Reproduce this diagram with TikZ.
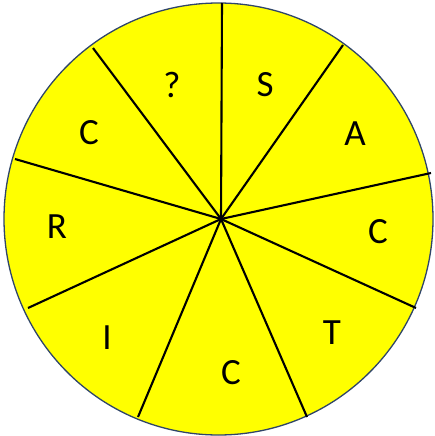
\documentclass[tikz,border=0pt]{standalone}
\usepackage{fontspec}
\setmainfont{Carlito}
\usepackage{tikz}
\usetikzlibrary{positioning, calc}
\definecolor{rimblue}{RGB}{47,69,105}
\definecolor{wheelyellow}{RGB}{255,255,0}

\begin{document}
\begin{tikzpicture}[x=1pt, y=-1pt,
  wheel/.style={draw=rimblue, line width=1.3pt, fill=wheelyellow},
  spoke/.style={draw=black, line width=2.1pt},
  letter/.style={font=\fontsize{37}{37}\selectfont, inner sep=0pt}
]
  \useasboundingbox (0,0) rectangle (434,436);
  \draw[wheel] (218.5,219) ellipse (214.5 and 216);

  \coordinate (hub) at (221,219);
  \coordinate (r1) at (222,3);
  \coordinate (r2) at (343,45);
  \coordinate (r3) at (431,173);
  \coordinate (r4) at (416,308);
  \coordinate (r5) at (307,417);
  \coordinate (r6) at (138,417);
  \coordinate (r7) at (28,308);
  \coordinate (r8) at (15,159);
  \coordinate (r9) at (93,48);

  \foreach \r in {r1,r2,r3,r4,r5,r6,r7,r8,r9}
    \draw[spoke] (hub) -- (\r);

  \node[letter] (qm) at (172,85)  {?};
  \node[letter] (s)  at (265,85)  {S};
  \node[letter] (a)  at (355,134) {A};
  \node[letter] (c1) at (378,232) {C};
  \node[letter] (t)  at (332,333) {T};
  \node[letter] (c2) at (231,373) {C};
  \node[letter] (i)  at (107,338) {I};
  \node[letter] (r)  at (57,227)  {R};
  \node[letter] (c3) at (89,133)  {C};
\end{tikzpicture}
\end{document}
